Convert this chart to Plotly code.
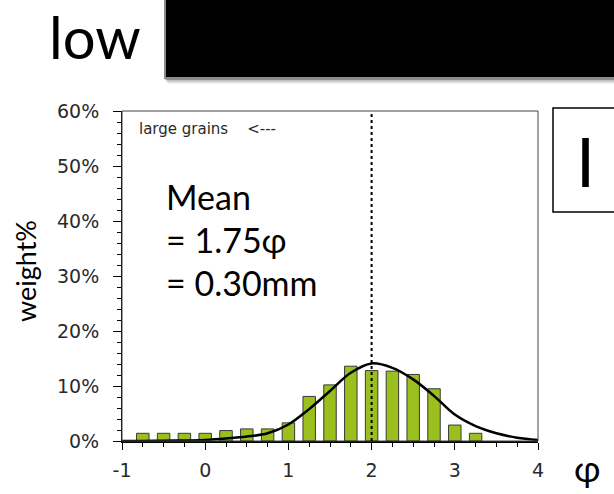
import plotly.graph_objects as go

# Grain-size histogram (weight% per quarter-phi class)
phi_classes = [-0.75, -0.5, -0.25, 0.0, 0.25, 0.5, 0.75, 1.0, 1.25, 1.5,
               1.75, 2.0, 2.25, 2.5, 2.75, 3.0, 3.25]
weight_pct = [1.4, 1.4, 1.4, 1.4, 1.9, 2.2, 2.2, 3.3, 8.1, 10.2,
              13.6, 12.8, 12.7, 12.1, 9.5, 2.9, 1.4]

# Fitted normal curve, sampled every quarter phi
curve_phi = [-1.0, -0.75, -0.5, -0.25, 0.0, 0.25, 0.5, 0.75, 1.0, 1.25, 1.5,
             1.75, 2.0, 2.25, 2.5, 2.75, 3.0, 3.25, 3.5, 3.75, 4.0]
curve_pct = [0.0, 0.02, 0.05, 0.1, 0.2, 0.45, 0.8, 1.4, 3.0, 5.8, 9.1,
             12.4, 14.1, 13.3, 11.2, 8.2, 4.8, 2.7, 1.4, 0.6, 0.2]

mean_phi_line = 2.0
x_ticks = [-1, 0, 1, 2, 3, 4]
y_ticks = [0, 10, 20, 30, 40, 50, 60]

W, H = 614, 494
L, R, T, B = 122, 76, 111, 53
PW, PH = W - L - R, H - T - B


def px(x):
    return (x - L) / PW


def py(y):
    return (H - B - y) / PH


fig = go.Figure()
fig.add_trace(go.Bar(
    x=phi_classes, y=weight_pct, width=0.15,
    marker=dict(color="#9bbf1c", line=dict(color="#3a3a3a", width=1)),
    hoverinfo="x+y",
))
fig.add_trace(go.Scatter(
    x=curve_phi, y=curve_pct, mode="lines",
    line=dict(color="black", width=2.5, shape="spline", smoothing=1.0),
))

tick_font = dict(family="DejaVu Sans", size=19, color="#2a2a2a")
fig.update_layout(
    width=W, height=H, showlegend=False,
    margin=dict(l=L, r=R, t=T, b=B),
    paper_bgcolor="white", plot_bgcolor="white",
    xaxis=dict(
        range=[-1, 4], tickvals=x_ticks, ticktext=[str(v) for v in x_ticks],
        showgrid=False, zeroline=False, showline=True,
        linecolor="black", linewidth=2,
        ticks="outside", ticklen=7, tickwidth=1, tickcolor="black",
        minor=dict(dtick=0.25, ticks="outside", ticklen=4, tickcolor="black",
                   showgrid=False),
        tickfont=tick_font, ticklabelstandoff=4,
    ),
    yaxis=dict(
        range=[0, 60], tickvals=y_ticks,
        ticktext=[f"{v}%" for v in y_ticks],
        showgrid=False, zeroline=False, showline=True,
        linecolor="black", linewidth=1,
        ticks="outside", ticklen=8, tickwidth=1, tickcolor="black",
        minor=dict(dtick=2, ticks="outside", ticklen=4, tickcolor="black",
                   showgrid=False),
        tickfont=tick_font, ticklabelstandoff=10,
    ),
)

shapes = []
# plot frame (top and right edges)
shapes.append(dict(type="rect", xref="paper", yref="paper", x0=0, x1=1,
                   y0=0, y1=1, line=dict(color="#444", width=1), layer="above"))
# mean line
shapes.append(dict(type="line", xref="x", yref="y", x0=mean_phi_line,
                   x1=mean_phi_line, y0=0, y1=60,
                   line=dict(color="black", width=2, dash="dot"), layer="above"))
# shadow under the dark banner
for i, op in enumerate([0.25, 0.15, 0.08, 0.04]):
    shapes.append(dict(type="rect", xref="paper", yref="paper",
                       x0=px(165 + i), x1=px(640), y0=py(80 + i * 1.5),
                       y1=py(-10), fillcolor=f"rgba(0,0,0,{op})",
                       line=dict(width=0), layer="above"))
# dark banner
shapes.append(dict(type="rect", xref="paper", yref="paper",
                   x0=px(165), x1=px(640), y0=py(78), y1=py(-10),
                   fillcolor="black", line=dict(color="#8a8a8a", width=2),
                   layer="above"))
# side label box
shapes.append(dict(type="rect", xref="paper", yref="paper",
                   x0=px(553), x1=px(640), y0=py(212), y1=py(108),
                   fillcolor="white", line=dict(color="black", width=1.5),
                   layer="above"))
fig.update_layout(shapes=shapes)

big = "Lato"
ann = []
ann.append(dict(text="low", xref="paper", yref="paper", x=px(47), y=py(36),
                xanchor="left", yanchor="middle", showarrow=False,
                font=dict(family=big, size=58, color="black")))
ann.append(dict(text="I", xref="paper", yref="paper", x=px(585), y=py(160),
                xanchor="center", yanchor="middle", showarrow=False,
                font=dict(family=big, size=68, color="black")))
ann.append(dict(text="φ", xref="paper", yref="paper", x=px(587), y=py(468),
                xanchor="center", yanchor="middle", showarrow=False,
                font=dict(family=big, size=36, color="black")))
ann.append(dict(text="weight%", xref="paper", yref="paper", x=px(25), y=py(271),
                xanchor="center", yanchor="middle", showarrow=False,
                textangle=-90, font=dict(family=big, size=27, color="black")))
ann.append(dict(text="large grains&nbsp;&nbsp;&nbsp;&nbsp;<---", xref="x", yref="y",
                x=-0.82, y=56.7, xanchor="left", yanchor="middle",
                showarrow=False,
                font=dict(family="DejaVu Sans", size=15, color="#2a2a2a")))
for txt, yv in [("Mean", 44.5), ("= 1.75φ", 36.6), ("= 0.30mm", 28.8)]:
    ann.append(dict(text=txt, xref="x", yref="y", x=-0.5, y=yv,
                    xanchor="left", yanchor="middle", showarrow=False,
                    font=dict(family=big, size=34, color="black")))
fig.update_layout(annotations=ann)

fig.write_html("out.html")
